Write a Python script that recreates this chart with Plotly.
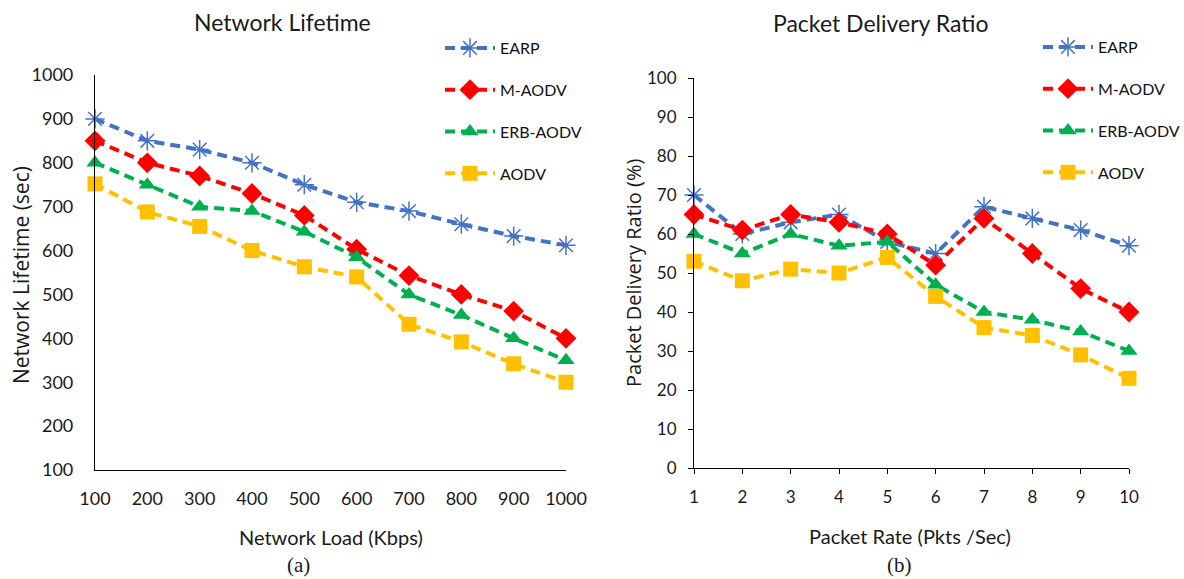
import plotly.graph_objects as go

W, H = 1184, 579

# ---- data ----
load_kbps = [100, 200, 300, 400, 500, 600, 700, 800, 900, 1000]
lifetime_earp = [900, 850, 830, 800, 750, 710, 690, 660, 633, 612]
lifetime_maodv = [850, 800, 770, 730, 680, 603, 543, 500, 462, 400]
lifetime_erb = [800, 750, 700, 690, 643, 585, 500, 453, 400, 350]
lifetime_aodv = [752, 688, 655, 600, 563, 540, 432, 392, 342, 300]

pkt_rate = [1, 2, 3, 4, 5, 6, 7, 8, 9, 10]
pdr_earp = [70, 60, 63, 65, 58, 55, 67, 64, 61, 57]
pdr_maodv = [65, 61, 65, 63, 60, 52, 64, 55, 46, 40]
pdr_erb = [60, 55, 60, 57, 58, 47, 40, 38, 35, 30]
pdr_aodv = [53, 48, 51, 50, 54, 44, 36, 34, 29, 23]

series_names = ["EARP", "M-AODV", "ERB-AODV", "AODV"]
colors = ["#4472C4", "#FF0000", "#00B050", "#FFC000"]
symbols = ["asterisk-open", "diamond", "triangle-up", "square"]
msizes = [16, 16, 15, 15]

FONT = "Lato, Open Sans, Liberation Sans, sans-serif"
FONT_Y = "Open Sans, Lato, Liberation Sans, sans-serif"

def px_x(p):
    return p / W

def px_y(p):
    return 1 - p / H

fig = go.Figure()

left_sets = [lifetime_earp, lifetime_maodv, lifetime_erb, lifetime_aodv]
right_sets = [pdr_earp, pdr_maodv, pdr_erb, pdr_aodv]

def add_series(xs, sets, xa, ya, leg, prefix):
    for i, (name, ys) in enumerate(zip(series_names, sets)):
        mk = dict(symbol=symbols[i], size=msizes[i], color=colors[i])
        if symbols[i] == "asterisk-open":
            mk["line"] = dict(color=colors[i], width=1.5)
        fig.add_trace(go.Scatter(
            x=xs, y=ys, name=name, mode="lines+markers",
            line=dict(color=colors[i], width=4, dash="10px,6px"),
            marker=mk, xaxis=xa, yaxis=ya, legend=leg,
            legendgroup=prefix + name, cliponaxis=False))

add_series(load_kbps, left_sets, "x", "y", "legend", "L")
add_series(pkt_rate, right_sets, "x2", "y2", "legend2", "R")

def axis_common(size):
    return dict(showgrid=False, zeroline=False, showline=True, automargin=False,
                linecolor="#000000", linewidth=1.2,
                tickfont=dict(family=FONT, size=size, color="#1a1a1a"))

leg_font = dict(family=FONT, size=16, color="#111111")

fig.update_layout(
    width=W, height=H, margin=dict(l=0, r=0, t=0, b=0, autoexpand=False),
    paper_bgcolor="white", plot_bgcolor="white",
    xaxis=dict(domain=[px_x(95), px_x(566)], range=[100, 1000],
               tickvals=load_kbps, ticks="", anchor="y",
               ticklabelstandoff=12, **axis_common(18)),
    yaxis=dict(domain=[px_y(470), px_y(75)], range=[100, 1000],
               tickvals=[100, 200, 300, 400, 500, 600, 700, 800, 900, 1000],
               ticks="", anchor="x", ticklabelstandoff=17, **axis_common(18)),
    xaxis2=dict(domain=[px_x(694), px_x(1129)], range=[1, 10],
                tickvals=pkt_rate, ticks="outside", ticklen=5,
                tickcolor="#000000", anchor="y2", ticklabelstandoff=8,
                **axis_common(17)),
    yaxis2=dict(domain=[px_y(468), px_y(78)], range=[0, 100],
                tickvals=list(range(0, 101, 10)), ticks="outside", ticklen=5,
                tickcolor="#000000", anchor="x2", ticklabelstandoff=8,
                **axis_common(17)),
    legend=dict(x=px_x(440), y=px_y(31), xanchor="left", yanchor="top",
                font=leg_font, tracegroupgap=18, traceorder="grouped",
                itemwidth=50, bgcolor="rgba(0,0,0,0)"),
    legend2=dict(x=px_x(1038), y=px_y(30), xanchor="left", yanchor="top",
                 font=leg_font, tracegroupgap=18, traceorder="grouped",
                 itemwidth=50, bgcolor="rgba(0,0,0,0)"),
)

annos = [
    dict(text="Network Lifetime", x=282, y=22, size=23, family=FONT, angle=0),
    dict(text="Packet Delivery Ratio", x=880, y=23, size=23, family=FONT, angle=0),
    dict(text="Network Load (Kbps)", x=331, y=537, size=20, family=FONT, angle=0),
    dict(text="Packet Rate (Pkts /Sec)", x=910, y=536, size=20, family=FONT, angle=0),
    dict(text="Network Lifetime (sec)", x=21, y=275, size=21, family=FONT_Y, angle=-90),
    dict(text="Packet Delivery Ratio (%)", x=633, y=273, size=20, family=FONT_Y, angle=-90),
    dict(text="(a)", x=298, y=565, size=21, family="Liberation Serif, Times New Roman, serif", angle=0),
    dict(text="(b)", x=899, y=565, size=21, family="Liberation Serif, Times New Roman, serif", angle=0),
]
for a in annos:
    fig.add_annotation(text=a["text"], x=px_x(a["x"]), y=px_y(a["y"]),
                       xref="paper", yref="paper", showarrow=False,
                       xanchor="center", yanchor="middle", textangle=a["angle"],
                       font=dict(family=a["family"], size=a["size"], color="#1a1a1a"))

fig.write_html("out.html", config={"displayModeBar": False},
               post_script="document.body.style.margin='0px';document.body.style.overflow='hidden';")
